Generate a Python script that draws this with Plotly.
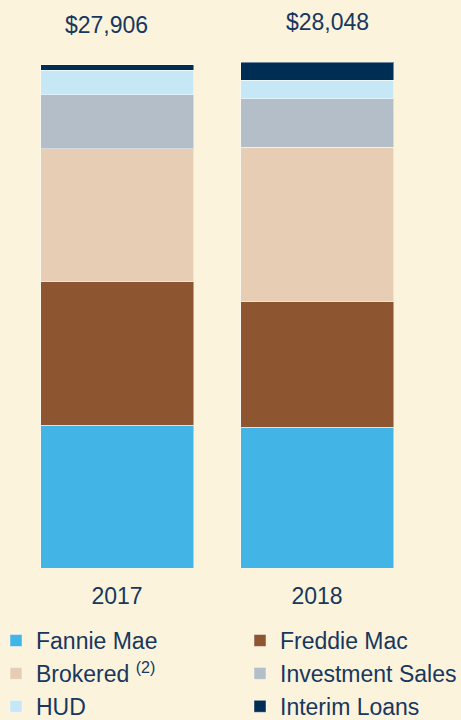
import plotly.graph_objects as go

years = ["2017", "2018"]
totals = [27906, 28048]
totals_text = ["$27,906", "$28,048"]
series_names = ["Fannie Mae", "Freddie Mac", "Brokered <sup>(2)</sup>", "Investment Sales", "HUD", "Interim Loans"]
fannie = [7913, 7817]
freddie = [7946, 6945]
brokered = [7375, 8575]
investment = [2994, 2677]
hud = [1370, 1020]
interim = [308, 1014]
colors = ["#42B4E6", "#8E5531", "#E8CDB5", "#B3BEC9", "#C6E8F6", "#002D54"]
legend_column = ["legend", "legend2", "legend", "legend2", "legend", "legend2"]
label_xshift = [-11, 10]

BG = "#FCF3DC"
NAVY = "#17375E"
FONT = "Arial, Liberation Sans, sans-serif"

fig = go.Figure()
for name, vals, col, lg in zip(series_names, [fannie, freddie, brokered, investment, hud, interim], colors, legend_column):
    fig.add_trace(go.Bar(x=years, y=vals, name=name, legend=lg,
                         marker=dict(color=col, line=dict(color="rgba(255,255,255,0.45)", width=1))))

for i, (tot, txt, xs) in enumerate(zip(totals, totals_text, label_xshift)):
    fig.add_annotation(x=i, xref="x", y=tot, yref="y", text=txt, showarrow=False,
                       yanchor="bottom", yshift=25, xshift=xs,
                       font=dict(size=23, color=NAVY, family=FONT))

legend_style = dict(orientation="v", xanchor="left", yanchor="top", traceorder="normal",
                    font=dict(size=23, color=NAVY, family=FONT), bgcolor="rgba(0,0,0,0)",
                    itemwidth=30, tracegroupgap=0)

fig.update_layout(
    barmode="stack",
    bargap=0.235,
    width=461, height=720,
    margin=dict(l=17, r=44, t=20, b=152, autoexpand=False),
    paper_bgcolor=BG, plot_bgcolor=BG,
    font=dict(family=FONT, size=23, color=NAVY),
    xaxis=dict(type="category", range=[-0.5, 1.5], showgrid=False, zeroline=False, showline=False, ticks="",
               tickfont=dict(size=23, color=NAVY), ticklabelstandoff=12),
    yaxis=dict(range=[0, 30380], visible=False),
    legend=dict(x=-0.0525, y=-0.0931, **legend_style),
    legend2=dict(x=0.5575, y=-0.0931, **legend_style),
)

fig.write_html("out.html")
